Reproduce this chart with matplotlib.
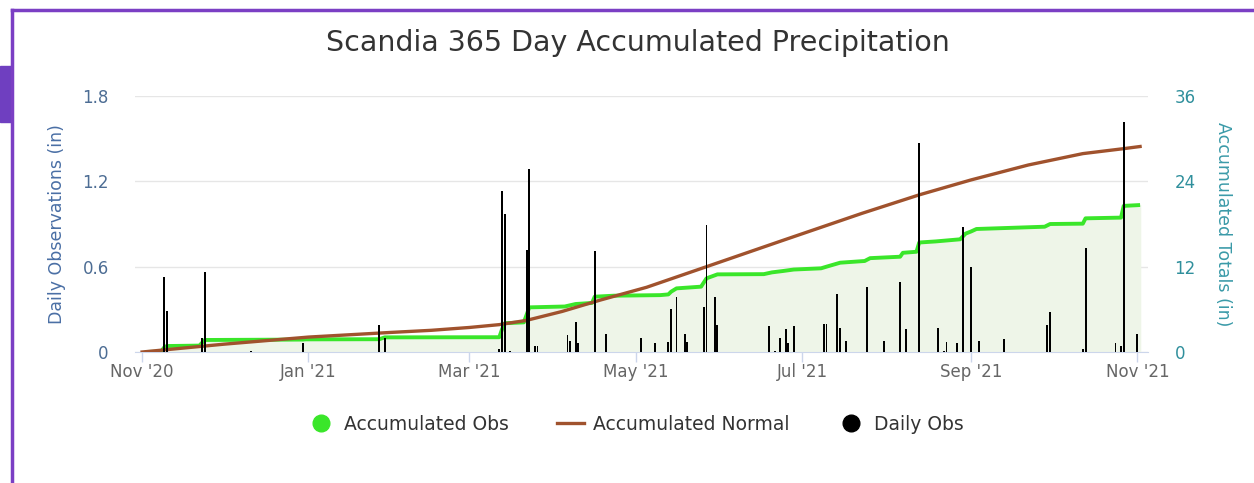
import pandas as pd
import matplotlib
matplotlib.use('Agg')
import matplotlib.pyplot as plt
import matplotlib.dates as mdates
from matplotlib.lines import Line2D

# daily observations (in)
daily_dates = ['2020-11-09', '2020-11-10', '2020-11-23', '2020-11-24', '2020-12-11', '2020-12-30',
               '2021-01-27', '2021-01-29', '2021-03-12', '2021-03-13', '2021-03-14', '2021-03-16',
               '2021-03-22', '2021-03-23', '2021-03-25', '2021-03-26', '2021-04-06', '2021-04-07',
               '2021-04-09', '2021-04-10', '2021-04-16', '2021-04-20', '2021-05-03', '2021-05-08',
               '2021-05-13', '2021-05-14', '2021-05-16', '2021-05-19', '2021-05-20', '2021-05-26',
               '2021-05-27', '2021-05-30', '2021-05-31', '2021-06-19', '2021-06-21', '2021-06-23',
               '2021-06-25', '2021-06-26', '2021-06-28', '2021-07-09', '2021-07-10', '2021-07-14',
               '2021-07-15', '2021-07-17', '2021-07-25', '2021-07-31', '2021-08-06', '2021-08-08',
               '2021-08-13', '2021-08-20', '2021-08-22', '2021-08-23', '2021-08-27', '2021-08-29',
               '2021-09-01', '2021-09-04', '2021-09-13', '2021-09-29', '2021-09-30', '2021-10-12',
               '2021-10-13', '2021-10-24', '2021-10-26', '2021-10-27', '2021-11-01']
daily_obs = [0.53, 0.29, 0.10, 0.56, 0.01, 0.06,
             0.19, 0.10, 0.02, 1.13, 0.97, 0.01,
             0.72, 1.29, 0.04, 0.04, 0.12, 0.08,
             0.21, 0.06, 0.71, 0.13, 0.10, 0.06,
             0.07, 0.30, 0.39, 0.13, 0.07, 0.32,
             0.89, 0.39, 0.19, 0.18, 0.01, 0.10,
             0.16, 0.06, 0.18, 0.20, 0.20, 0.41,
             0.17, 0.08, 0.46, 0.08, 0.49, 0.16,
             1.47, 0.17, 0.01, 0.07, 0.06, 0.88,
             0.60, 0.08, 0.09, 0.19, 0.28, 0.02,
             0.73, 0.06, 0.04, 1.62, 0.13]

# accumulated observed totals (in)
acc_dates = ['2020-11-02', '2020-11-08', '2020-11-09', '2020-11-10', '2020-11-22', '2020-11-24',
             '2020-12-30', '2020-12-31', '2021-01-27', '2021-01-29', '2021-03-12', '2021-03-13',
             '2021-03-14', '2021-03-21', '2021-03-23', '2021-04-05', '2021-04-09', '2021-04-15',
             '2021-04-16', '2021-04-23', '2021-05-10', '2021-05-13', '2021-05-14', '2021-05-16',
             '2021-05-25', '2021-05-27', '2021-05-31', '2021-06-17', '2021-06-20', '2021-06-24',
             '2021-06-28', '2021-07-08', '2021-07-10', '2021-07-15', '2021-07-24', '2021-07-26',
             '2021-08-06', '2021-08-07', '2021-08-12', '2021-08-13', '2021-08-19', '2021-08-28',
             '2021-08-30', '2021-09-01', '2021-09-03', '2021-09-28', '2021-09-30', '2021-10-12',
             '2021-10-13', '2021-10-26', '2021-10-27', '2021-11-02']
acc_obs = [0.0, 0.05, 0.6, 0.84, 0.9, 1.69,
           1.75, 1.78, 1.8, 2.06, 2.08, 3.2,
           4.05, 4.17, 6.28, 6.4, 6.75, 6.9,
           7.78, 7.92, 8.0, 8.1, 8.48, 8.95,
           9.19, 10.36, 10.92, 10.95, 11.2, 11.39,
           11.6, 11.77, 12.0, 12.56, 12.8, 13.2,
           13.4, 13.95, 14.1, 15.4, 15.55, 15.85,
           16.65, 16.95, 17.3, 17.62, 18.0, 18.05,
           18.8, 18.9, 20.55, 20.67]

# accumulated normal (in)
normal_dates = ['2020-11-01', '2020-12-01', '2021-01-01', '2021-01-31', '2021-02-15', '2021-03-01',
                '2021-03-12', '2021-03-22', '2021-04-04', '2021-04-18', '2021-05-05', '2021-05-27',
                '2021-06-24', '2021-07-23', '2021-08-13', '2021-09-01', '2021-09-22', '2021-10-12',
                '2021-10-27', '2021-11-02']
normal_vals = [0.0, 1.1, 2.1, 2.75, 3.05, 3.45,
               3.85, 4.45, 5.7, 7.3, 9.1, 12.0,
               15.7, 19.5, 22.1, 24.2, 26.3, 27.9,
               28.6, 28.9]

tick_dates = ['2020-11-01', '2021-01-01', '2021-03-01', '2021-05-01', '2021-07-01', '2021-09-01', '2021-11-01']

d_daily = pd.to_datetime(daily_dates)
d_acc = pd.to_datetime(acc_dates)
d_norm = pd.to_datetime(normal_dates)

plt.rcParams['font.family'] = 'DejaVu Sans'

fig = plt.figure(figsize=(12.54, 4.83), dpi=100)
ax = fig.add_axes([0.1077, 0.2712, 0.8078, 0.53])   # accumulated totals (right scale)
ax2 = ax.twinx()                                     # daily obs (left scale)

ax.fill_between(d_acc, acc_obs, 0, color='#eef5e8', zorder=1)
ax.plot(d_acc, acc_obs, color='#3ae62a', lw=2.8, zorder=3, solid_capstyle='butt')
ax.plot(d_norm, normal_vals, color='#a0522d', lw=2.4, zorder=4)
ax.set_ylim(0, 36)
ax.set_yticks([0, 12, 24, 36])
ax.yaxis.tick_right()
ax.yaxis.set_label_position('right')
ax.grid(axis='y', color='#e6e6e6', lw=1)
ax.set_axisbelow(True)

ax2.bar(d_daily, daily_obs, width=0.7, color='black', zorder=5)
ax2.set_ylim(0, 1.8)
ax2.set_yticks([0, 0.6, 1.2, 1.8])
ax2.set_yticklabels(['0', '0.6', '1.2', '1.8'])
ax2.yaxis.tick_left()
ax2.yaxis.set_label_position('left')

ax.set_xlim(pd.Timestamp('2020-10-29 10:00'), pd.Timestamp('2021-11-04 22:00'))
ax.set_xticks(pd.to_datetime(tick_dates))
ax.xaxis.set_major_formatter(mdates.DateFormatter("%b '%y"))

for a in (ax, ax2):
    for s in a.spines.values():
        s.set_visible(False)
ax.spines['bottom'].set_visible(True)
ax.spines['bottom'].set_color('#ccd6eb')

ax.tick_params(axis='x', colors='#ccd6eb', length=7, width=1, labelcolor='#666666', labelsize=12, pad=1)
ax.tick_params(axis='y', length=0, labelcolor='#2f8f9c', labelsize=12, pad=19)
ax2.tick_params(axis='y', length=0, labelcolor='#4d6d94', labelsize=12, pad=19)
for lab in ax.get_yticklabels():
    lab.set_horizontalalignment('left')

ax2.set_ylabel('Daily Observations (in)', color='#4a6fa5', fontsize=12.5, labelpad=12)
ax.set_ylabel('Accumulated Totals (in)', color='#3a9aa8', fontsize=12.5, rotation=270,
              labelpad=26)

fig.text(0.509, 0.91, 'Scandia 365 Day Accumulated Precipitation', ha='center', va='center',
         fontsize=20.5, color='#333333')

handles = [Line2D([], [], ls='none', marker='o', ms=12, color='#3ae62a'),
           Line2D([], [], color='#a0522d', lw=2.4),
           Line2D([], [], ls='none', marker='o', ms=12, color='black')]
fig.legend(handles, ['Accumulated Obs', 'Accumulated Normal', 'Daily Obs'], loc='center',
           bbox_to_anchor=(0.507, 0.122), ncol=3, frameon=False, fontsize=13.5,
           handlelength=1.4, columnspacing=2.6, handletextpad=0.5, labelcolor='#333333')

# card border
fig.add_artist(Line2D([12 / 1254, 12 / 1254], [0, 1 - 10 / 483], color='#7b3fc4', lw=2.5,
                      transform=fig.transFigure))
fig.add_artist(Line2D([12 / 1254, 1], [1 - 10 / 483, 1 - 10 / 483], color='#7b3fc4', lw=2.5,
                      transform=fig.transFigure))
fig.add_artist(plt.Rectangle((0, 1 - 122 / 483), 12 / 1254, 56 / 483, color='#6f3fc0',
                             transform=fig.transFigure))

fig.savefig('out.png', dpi=100)
